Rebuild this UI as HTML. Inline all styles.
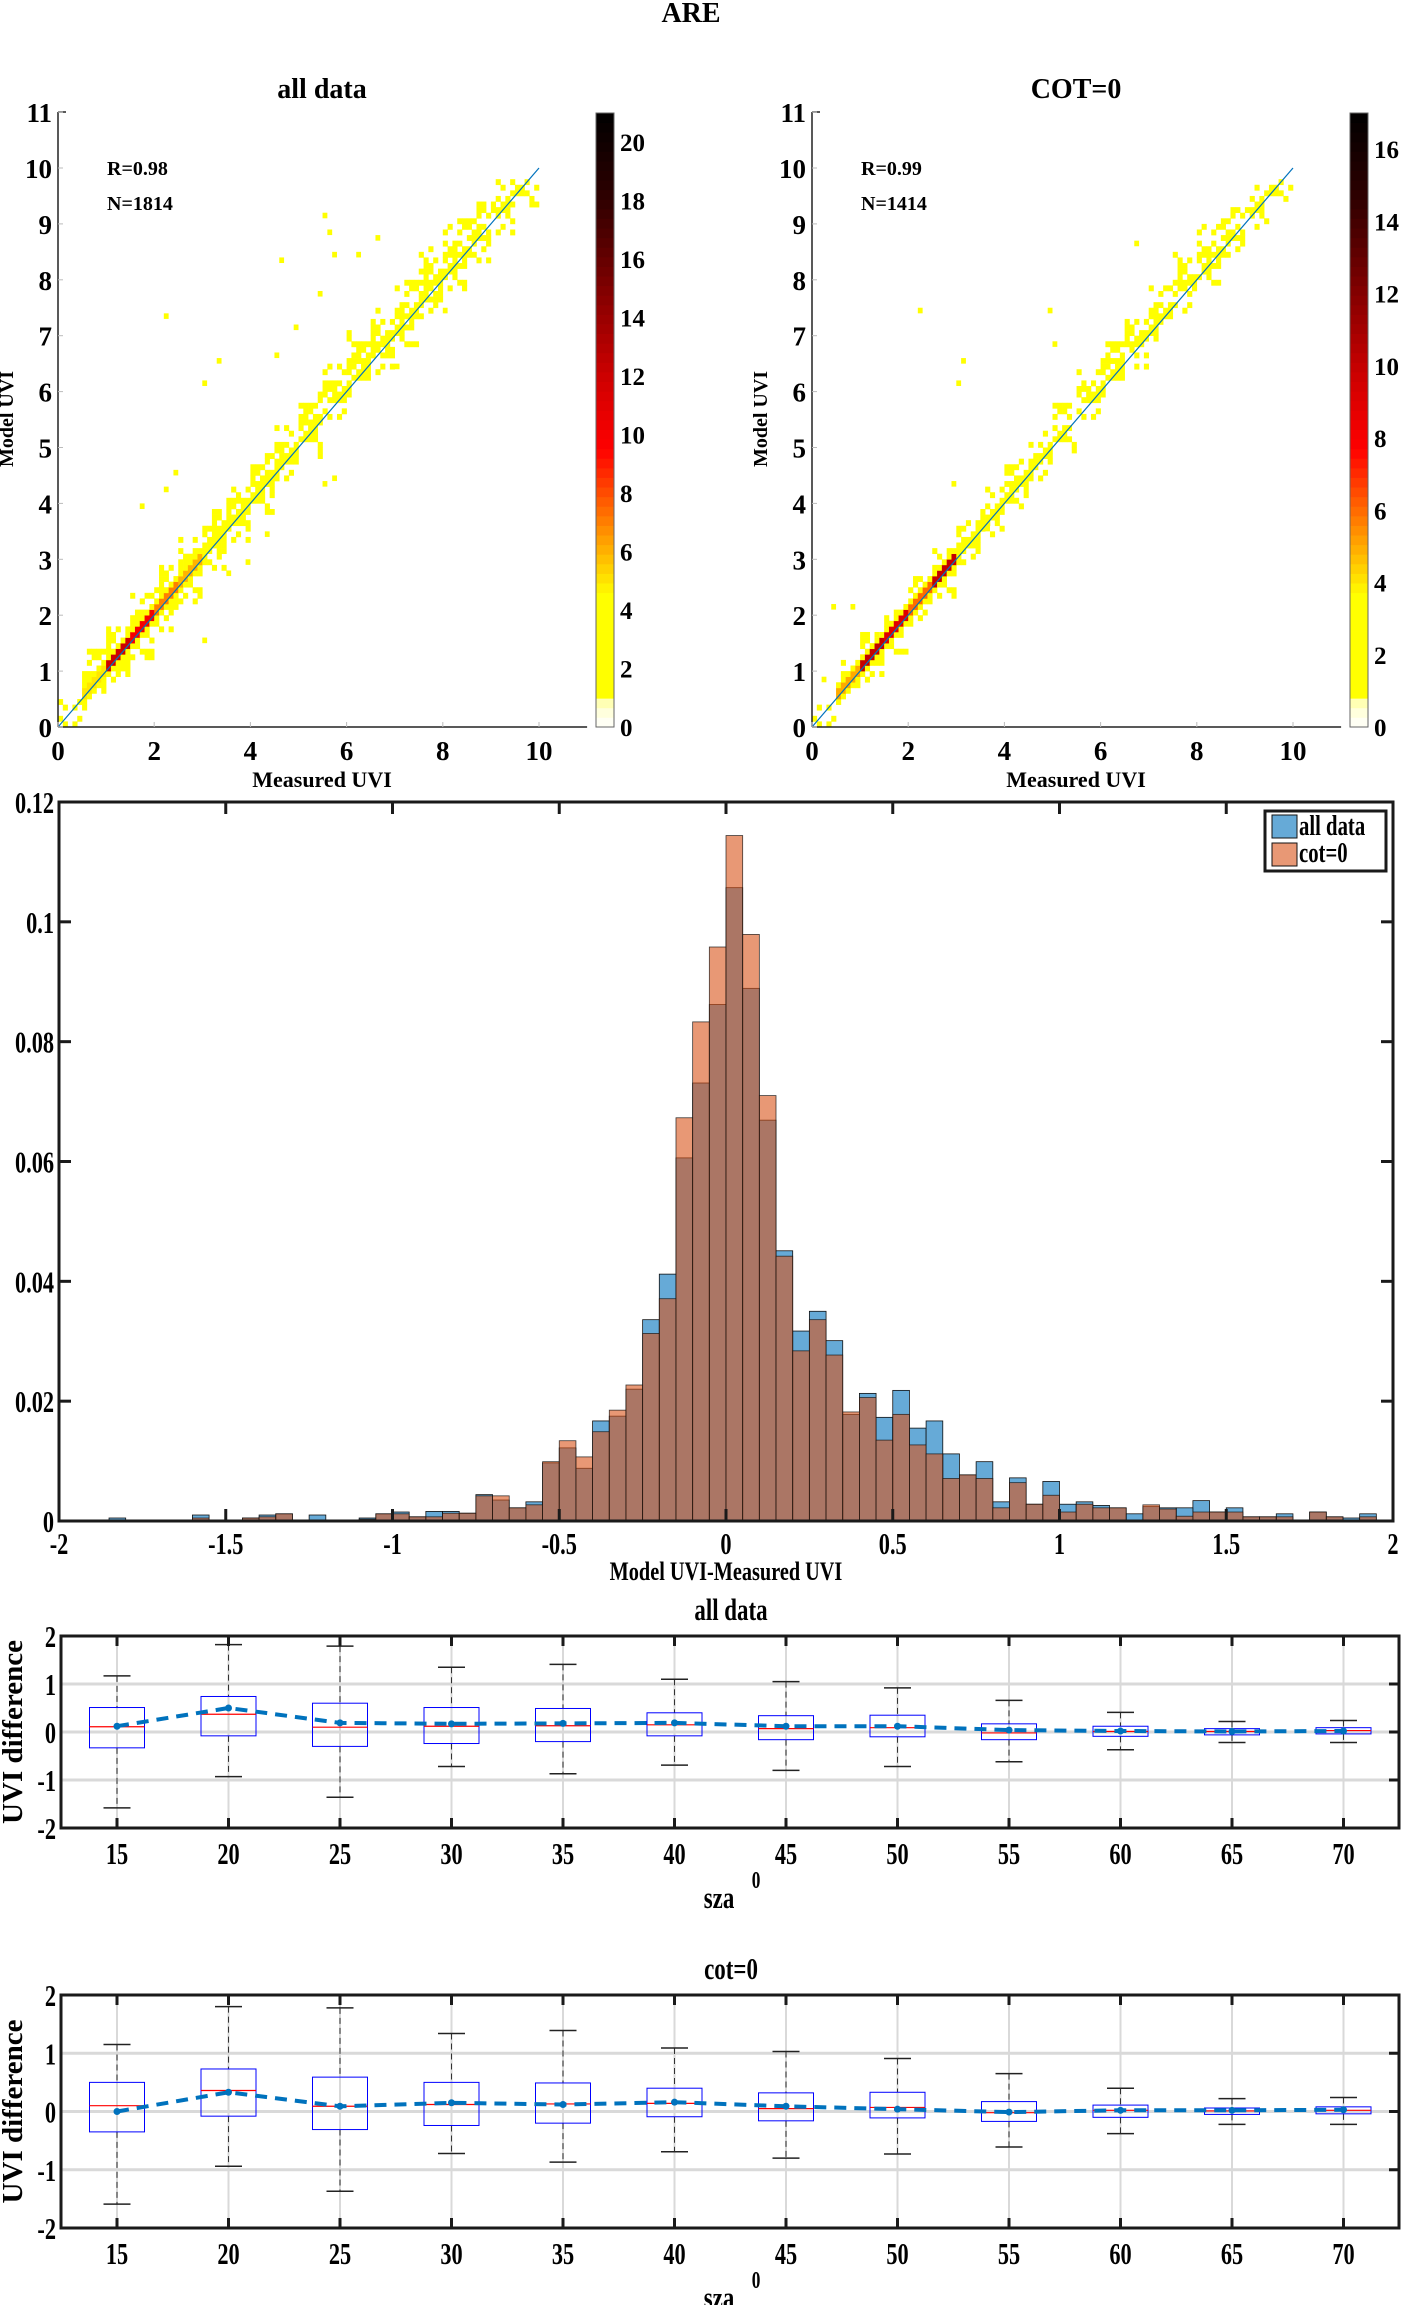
<!DOCTYPE html>
<html><head><meta charset="utf-8"><style>
html,body{margin:0;padding:0;background:#fff;}
svg{display:block;font-family:"Liberation Serif",serif;font-weight:bold;}
</style></head><body>
<svg id="chart" xmlns="http://www.w3.org/2000/svg" width="1401" height="2305" viewBox="0 0 1401 2305"></svg>
<script>
// ---------- scatter (2D histogram) data: band of model UVI per measured UVI step (0..9.5 step 0.5) ----------
const bandX = [0,0.5,1,1.5,2,2.5,3,3.5,4,4.5,5,5.5,6,6.5,7,7.5,8,8.5,9,9.5];
const allLo = [0,0.3,0.7,1.2,1.7,2.2,2.8,3.3,3.8,4.3,4.8,5.4,5.9,6.3,6.8,7.3,7.8,8.3,8.8,9.3];
const allHi = [0.5,1.4,1.9,2.4,2.9,3.4,3.9,4.4,4.9,5.4,6.0,6.6,7.1,7.5,8.0,8.6,9.1,9.4,9.8,9.9];
const allPeak = [1,8,21,17,12,11,5,3,7,3,2,2,2,2,2,2,2,1,1,1];
const allOutX = [2.25,3.34,3.05,4.64,5.55,5.65,5.76,4.92,4.55,5.74,5.55,4.35,3.05,1.78,2.25,2.46,3.53,3.95,7.04,8.03,8.45,6.64,6.22,5.44];
const allOutY = [7.34,6.54,6.15,8.35,9.14,8.84,8.46,7.15,6.65,4.43,4.34,3.46,1.55,3.95,4.25,4.54,2.74,2.97,6.46,7.45,7.83,8.75,8.46,7.74];
const cotLo = [0,0.4,0.8,1.3,1.8,2.3,2.9,3.4,3.9,4.4,4.9,5.4,5.9,6.4,6.9,7.4,7.9,8.4,8.9,9.4];
const cotHi = [0.4,1.2,1.7,2.2,2.7,3.2,3.7,4.3,4.8,5.3,5.8,6.4,6.9,7.4,7.9,8.5,9.0,9.3,9.7,9.9];
const cotPeak = [1,9,17,15,10,17,5,3,6,4,2,2,2,2,3,2,2,1,1,1];
const cotOutX = [2.2,3.15,3.05,4.9,5.0,6.7,0.2,0.4,0.8,1.3,2.9,3.6];
const cotOutY = [7.4,6.55,6.15,7.45,6.8,8.65,0.85,2.15,2.15,1.6,4.35,3.55];
// ---------- histogram data (bins of 0.05 from -2 to 2) ----------
const binStart = -2, binWidth = 0.05;
const histAll = [0,0,0,0.0005,0,0,0,0,0.001,0,0,0.0005,0.001,0.0012,0,0.001,0,0,0.0005,0.0012,
 0.0015,0.0007,0.0016,0.0016,0.0013,0.0044,0.0035,0.0022,0.0032,0.0097,0.0122,0.0088,0.0167,0.0175,0.022,0.0336,0.0412,0.0606,0.0731,0.0862,
 0.1057,0.0889,0.0669,0.0451,0.0317,0.035,0.0301,0.0178,0.0213,0.0173,0.0218,0.0155,0.0167,0.0112,0.0077,0.0099,0.0032,0.0072,0.0028,0.0066,
 0.0028,0.0032,0.0026,0.0022,0.0012,0.0024,0.0022,0.0022,0.0034,0.0015,0.0022,0.0007,0.0007,0.0012,0,0.0015,0.0007,0.0005,0.0012,0];
const histCot = [0,0,0,0,0,0,0,0,0.0005,0,0,0.0005,0.0007,0.0012,0,0,0,0,0.0003,0.0012,
 0.0012,0.0007,0.0007,0.0013,0.0013,0.0042,0.0042,0.0022,0.0027,0.0099,0.0134,0.0107,0.0149,0.0185,0.0227,0.0313,0.0371,0.0673,0.0833,0.0958,
 0.1144,0.0979,0.071,0.0442,0.0284,0.0336,0.0277,0.0182,0.0206,0.0135,0.0178,0.0127,0.0112,0.0071,0.0077,0.0071,0.0022,0.0064,0.0028,0.0043,
 0.0015,0.0028,0.0022,0.0022,0,0.0027,0.002,0.0008,0.0015,0.0015,0.0015,0.0007,0.0007,0.0007,0,0.0015,0.0007,0,0.0007,0];
const histYTicks = [0,0.02,0.04,0.06,0.08,0.1,0.12];
const histYLabels = ["0","0.02","0.04","0.06","0.08","0.1","0.12"];
const histXTicks = [-2,-1.5,-1,-0.5,0,0.5,1,1.5,2];
// ---------- boxplot data ----------
const szaLabels = ["15","20","25","30","35","40","45","50","55","60","65","70"];
const b1Up = [1.17,1.82,1.79,1.35,1.41,1.1,1.05,0.92,0.66,0.41,0.22,0.24];
const b1Q3 = [0.51,0.74,0.6,0.51,0.49,0.4,0.34,0.35,0.17,0.12,0.07,0.09];
const b1Med = [0.11,0.37,0.1,0.12,0.13,0.15,0.07,0.09,-0.02,0.01,0.01,0.03];
const b1Q1 = [-0.33,-0.08,-0.3,-0.24,-0.2,-0.08,-0.16,-0.1,-0.16,-0.09,-0.06,-0.04];
const b1Lo = [-1.58,-0.93,-1.36,-0.72,-0.87,-0.69,-0.8,-0.72,-0.62,-0.37,-0.22,-0.22];
const b1Mean = [0.12,0.5,0.19,0.17,0.18,0.19,0.12,0.12,0.04,0.02,0.01,0.02];
const b2Up = [1.15,1.8,1.78,1.34,1.39,1.09,1.03,0.91,0.65,0.4,0.22,0.24];
const b2Q3 = [0.5,0.73,0.59,0.5,0.49,0.4,0.32,0.33,0.17,0.11,0.06,0.08];
const b2Med = [0.1,0.36,0.09,0.12,0.13,0.14,0.05,0.07,-0.02,0.02,0.01,0.02];
const b2Q1 = [-0.35,-0.08,-0.31,-0.24,-0.2,-0.09,-0.16,-0.11,-0.17,-0.1,-0.05,-0.04];
const b2Lo = [-1.59,-0.94,-1.37,-0.72,-0.87,-0.69,-0.8,-0.73,-0.61,-0.38,-0.22,-0.22];
const b2Mean = [0.0,0.33,0.09,0.15,0.12,0.16,0.09,0.04,-0.01,0.02,0.02,0.03];

const NS = "http://www.w3.org/2000/svg";
const svg = document.getElementById('chart');
function mk(tag, attrs, name, parent) {
  const el = document.createElementNS(NS, tag);
  for (const k in attrs) el.setAttribute(k, attrs[k]);
  
  
  (parent || svg).appendChild(el);
  return el;
}
function txt(x, y, s, size, anchor, name, sx, rot) {
  const el = document.createElementNS(NS, 'text');
  let tr = 'translate(' + x + ',' + y + ')';
  if (rot) tr += ' rotate(' + rot + ')';
  if (sx) tr += ' scale(' + sx + ',1)';
  el.setAttribute('transform', tr);
  el.setAttribute('font-size', size);
  el.setAttribute('text-anchor', anchor || 'middle');
  el.setAttribute('fill', '#000');
  el.textContent = s;
  
  
  svg.appendChild(el);
  return el;
}

const cmStops = [[0,[255,255,255]],[0.8,[255,255,200]],[1,[255,255,0]],[4.5,[255,255,0]],[7,[255,128,0]],[9.5,[255,0,0]],[12,[205,0,0]],[15,[128,0,0]],[18,[48,0,0]],[21,[0,0,0]]];
function cmap(c, cmax) {
  const v = c * 21 / cmax;
  for (let i = 1; i < cmStops.length; i++) {
    if (v <= cmStops[i][0]) {
      const a = cmStops[i-1], b = cmStops[i], t = (v - a[0]) / (b[0] - a[0]);
      const col = a[1].map((q, k) => Math.round(q + (b[1][k] - q) * t));
      return 'rgb(' + col.join(',') + ')';
    }
  }
  return 'rgb(0,0,0)';
}

txt(691, 22, 'ARE', 28, 'middle', 'figure-title');

function scatter(ox, lo, hi, peak, outX, outY, cmax, rtxt, ntxt, ttl, cbx, cbTicks, pre) {
  const sx = v => ox + v * 48.1;
  const sy = v => 727 - v * 55.9;
  const cw = 4.81, ch = 5.59;
  for (let i = 0; i < 100; i++) {
    const mx = i * 0.1 + 0.05;
    const k = Math.min(bandX.length - 1, Math.floor(mx / 0.5));
    const l = lo[k], h = hi[k], p = peak[k];
    const diag = mx + 0.05;
    for (let j = 0; j < 110; j++) {
      const my = j * 0.1 + 0.05;
      if (my < l || my > h) continue;
      const d = Math.abs(my - diag);
      let c = Math.max(1, Math.round(p * Math.exp(-d / 0.09)));
      const hsh = (i * 73 + j * 151 + i * j * 7) % 11;
      const edge = Math.min(my - l, h - my);
      if (c === 1 && (hsh < 3 || (edge < 0.35 && hsh < 7))) continue;
      mk('rect', {x: (sx(i*0.1)).toFixed(2), y: (sy(j*0.1+0.1)).toFixed(2), width: cw+0.3, height: ch+0.3, fill: cmap(c, cmax)}, pre + '-cell');
    }
  }
  for (let n = 0; n < outX.length; n++) {
    mk('rect', {x: sx(Math.floor(outX[n]*10)/10), y: sy(Math.floor(outY[n]*10)/10 + 0.1), width: cw, height: ch, fill: 'rgb(255,255,0)'}, pre + '-outlier-cell');
  }
  mk('line', {x1: sx(0), y1: sy(0), x2: sx(10), y2: sy(10), stroke: '#0072bd', 'stroke-width': 1.2}, pre + '-one-to-one-line');
  mk('line', {x1: ox, y1: 112, x2: ox, y2: 727, stroke: '#222', 'stroke-width': 1.5}, pre + '-y-axis');
  mk('line', {x1: ox, y1: 727, x2: sx(11), y2: 727, stroke: '#222', 'stroke-width': 1.5}, pre + '-x-axis');
  mk('line', {x1: ox, y1: 112, x2: ox + 8, y2: 112, stroke: '#222', 'stroke-width': 1.5}, pre + '-y-axis-top-tick');
  for (let v = 0; v <= 11; v++) {
    mk('line', {x1: ox, y1: sy(v), x2: ox + 5, y2: sy(v), stroke: '#bbb', 'stroke-width': 1}, pre + '-y-tick');
    txt(ox - 6, sy(v) + 10, String(v), 27, 'end', pre + '-y-tick-label');
  }
  for (let v = 0; v <= 10; v += 2) {
    mk('line', {x1: sx(v), y1: 727, x2: sx(v), y2: 722, stroke: '#bbb', 'stroke-width': 1}, pre + '-x-tick');
    txt(sx(v), 760, String(v), 27, 'middle', pre + '-x-tick-label');
  }
  txt(ox + 264, 98, ttl, 28, 'middle', pre + '-title');
  txt(ox + 264, 787, 'Measured UVI', 22, 'middle', pre + '-x-axis-title');
  txt(ox - 45, 419, 'Model UVI', 20, 'middle', pre + '-y-axis-title', null, -90);
  txt(ox + 49, 175, rtxt, 20, 'start', pre + '-r-value');
  txt(ox + 49, 210, ntxt, 20, 'start', pre + '-n-count');
  const cbTop = 113, cbBot = 727, steps = 64;
  for (let s = 0; s < steps; s++) {
    const c = (s + 0.5) / steps * cmax;
    const y0 = cbBot - (s + 1) / steps * (cbBot - cbTop);
    mk('rect', {x: cbx, y: y0.toFixed(2), width: 18, height: ((cbBot - cbTop) / steps + 0.4).toFixed(2), fill: cmap(c, cmax)}, pre + '-colorbar-step');
  }
  mk('rect', {x: cbx, y: cbTop, width: 18, height: cbBot - cbTop, fill: 'none', stroke: '#666', 'stroke-width': 1}, pre + '-colorbar-frame');
  for (const t of cbTicks) {
    const y = cbBot - t / cmax * (cbBot - cbTop);
    txt(cbx + 24, y + 9, String(t), 25, 'start', pre + '-colorbar-label');
  }
}
scatter(58, allLo, allHi, allPeak, allOutX, allOutY, 21, 'R=0.98', 'N=1814', 'all data', 596, [0,2,4,6,8,10,12,14,16,18,20], 'scatter-all');
scatter(812, cotLo, cotHi, cotPeak, cotOutX, cotOutY, 17, 'R=0.99', 'N=1414', 'COT=0', 1350, [0,2,4,6,8,10,12,14,16], 'scatter-cot');

(function(){
  const L = 59, R = 1393, T = 802, B = 1521;
  const hx = v => L + (v + 2) / 4 * (R - L);
  const hy = v => B - v / 0.12 * (B - T);
  for (let i = 0; i < histAll.length; i++) {
    const x0 = hx(binStart + i * binWidth), x1 = hx(binStart + (i + 1) * binWidth);
    if (histAll[i] > 0) {
      mk('rect', {x: x0.toFixed(2), y: hy(histAll[i]).toFixed(2), width: (x1-x0).toFixed(2), height: (B - hy(histAll[i])).toFixed(2), fill: 'rgb(0,114,189)', 'fill-opacity': 0.6, stroke: '#111', 'stroke-width': 0.8}, 'hist-bar-all');
    }
  }
  for (let i = 0; i < histCot.length; i++) {
    const x0 = hx(binStart + i * binWidth), x1 = hx(binStart + (i + 1) * binWidth);
    if (histCot[i] > 0) {
      mk('rect', {x: x0.toFixed(2), y: hy(histCot[i]).toFixed(2), width: (x1-x0).toFixed(2), height: (B - hy(histCot[i])).toFixed(2), fill: 'rgb(217,83,25)', 'fill-opacity': 0.6, stroke: '#111', 'stroke-width': 0.8, 'stroke-opacity': 0.8}, 'hist-bar-cot');
    }
  }
  mk('rect', {x: L, y: T, width: R - L, height: B - T, fill: 'none', stroke: '#1a1a1a', 'stroke-width': 3}, 'hist-frame');
  for (let k = 0; k < histYTicks.length; k++) {
    const y = hy(histYTicks[k]);
    mk('line', {x1: L, y1: y, x2: L + 12, y2: y, stroke: '#1a1a1a', 'stroke-width': 3}, 'hist-y-tick');
    mk('line', {x1: R, y1: y, x2: R - 12, y2: y, stroke: '#1a1a1a', 'stroke-width': 3}, 'hist-y-tick-right');
    txt(L - 5, y + 11, histYLabels[k], 31, 'end', 'hist-y-tick-label', 0.72);
  }
  for (const v of histXTicks) {
    const x = hx(v);
    mk('line', {x1: x, y1: T, x2: x, y2: T + 12, stroke: '#1a1a1a', 'stroke-width': 3}, 'hist-x-tick-top');
    mk('line', {x1: x, y1: B, x2: x, y2: B - 12, stroke: '#1a1a1a', 'stroke-width': 3}, 'hist-x-tick');
    txt(x, 1554, String(v), 31, 'middle', 'hist-x-tick-label', 0.72);
  }
  txt((L + R) / 2, 1580, 'Model UVI-Measured UVI', 26, 'middle', 'hist-x-axis-title', 0.78);
  mk('rect', {x: 1265, y: 811, width: 121, height: 60, fill: '#fff', stroke: '#1a1a1a', 'stroke-width': 3}, 'hist-legend');
  mk('rect', {x: 1272, y: 815, width: 25, height: 23, fill: 'rgb(0,114,189)', 'fill-opacity': 0.6, stroke: '#111', 'stroke-width': 1}, 'legend-swatch-all');
  mk('rect', {x: 1272, y: 843, width: 25, height: 23, fill: 'rgb(217,83,25)', 'fill-opacity': 0.6, stroke: '#111', 'stroke-width': 1}, 'legend-swatch-cot');
  txt(1299, 835, 'all data', 28, 'start', 'legend-entry-all', 0.74);
  txt(1299, 862, 'cot=0', 28, 'start', 'legend-entry-cot', 0.74);
})();

function boxplot(T, B, up, q3, med, q1, lo, mean, ttl, pre) {
  const L = 61, R = 1399;
  const bx = i => 117 + 111.5 * i;
  const mid = (T + B) / 2, ppu = (B - T) / 4;
  const by = v => mid - v * ppu;
  for (let i = 0; i < szaLabels.length; i++)
    mk('line', {x1: bx(i), y1: T, x2: bx(i), y2: B, stroke: '#d9d9d9', 'stroke-width': 2}, pre + '-grid-x');
  for (const v of [-1, 0, 1])
    mk('line', {x1: L, y1: by(v), x2: R, y2: by(v), stroke: '#d9d9d9', 'stroke-width': 3}, pre + '-grid-y');
  for (let i = 0; i < szaLabels.length; i++) {
    const x = bx(i), hw = 27.5, cw = 13.5;
    mk('line', {x1: x, y1: by(up[i]), x2: x, y2: by(q3[i]), stroke: '#333', 'stroke-width': 1, 'stroke-dasharray': '6,4'}, pre + '-whisker-upper');
    mk('line', {x1: x, y1: by(q1[i]), x2: x, y2: by(lo[i]), stroke: '#333', 'stroke-width': 1, 'stroke-dasharray': '6,4'}, pre + '-whisker-lower');
    mk('line', {x1: x - cw, y1: by(up[i]), x2: x + cw, y2: by(up[i]), stroke: '#222', 'stroke-width': 1.5}, pre + '-cap-upper');
    mk('line', {x1: x - cw, y1: by(lo[i]), x2: x + cw, y2: by(lo[i]), stroke: '#222', 'stroke-width': 1.5}, pre + '-cap-lower');
    mk('rect', {x: x - hw, y: by(q3[i]), width: 2 * hw, height: by(q1[i]) - by(q3[i]), fill: 'none', stroke: '#0000ff', 'stroke-width': 1}, pre + '-box');
    mk('line', {x1: x - hw, y1: by(med[i]), x2: x + hw, y2: by(med[i]), stroke: '#ff0000', 'stroke-width': 1.2}, pre + '-median');
  }
  const pts = mean.map((v, i) => bx(i).toFixed(1) + ',' + by(v).toFixed(1)).join(' ');
  mk('polyline', {points: pts, fill: 'none', stroke: '#0072bd', 'stroke-width': 4, 'stroke-dasharray': '12,8'}, pre + '-mean-line');
  for (let i = 0; i < mean.length; i++)
    mk('circle', {cx: bx(i), cy: by(mean[i]), r: 3.5, fill: '#0072bd'}, pre + '-mean-point');
  mk('rect', {x: L, y: T, width: R - L, height: B - T, fill: 'none', stroke: '#1a1a1a', 'stroke-width': 3}, pre + '-frame');
  for (let i = 0; i < szaLabels.length; i++) {
    mk('line', {x1: bx(i), y1: T, x2: bx(i), y2: T + 10, stroke: '#1a1a1a', 'stroke-width': 3}, pre + '-x-tick-top');
    mk('line', {x1: bx(i), y1: B, x2: bx(i), y2: B - 10, stroke: '#1a1a1a', 'stroke-width': 3}, pre + '-x-tick');
    txt(bx(i), B + 36, szaLabels[i], 31, 'middle', pre + '-x-tick-label', 0.72);
  }
  for (const v of [-2, -1, 0, 1, 2]) {
    mk('line', {x1: R, y1: by(v), x2: R - 10, y2: by(v), stroke: '#1a1a1a', 'stroke-width': 3}, pre + '-y-tick-right');
    txt(L - 5, by(v) + 11, String(v), 31, 'end', pre + '-y-tick-label', 0.72);
  }
  txt(731, T - 16, ttl, 31, 'middle', pre + '-title', 0.74);
  txt(719, B + 80, 'sza', 31, 'middle', pre + '-x-axis-title', 0.74);
  txt(756, B + 60, '0', 24, 'middle', pre + '-x-axis-degree', 0.72);
  txt(22, mid, 'UVI difference', 29, 'middle', pre + '-y-axis-title', null, -90);
}
boxplot(1636, 1828, b1Up, b1Q3, b1Med, b1Q1, b1Lo, b1Mean, 'all data', 'box-all');
boxplot(1995, 2228, b2Up, b2Q3, b2Med, b2Q1, b2Lo, b2Mean, 'cot=0', 'box-cot');
</script>
</body></html>
